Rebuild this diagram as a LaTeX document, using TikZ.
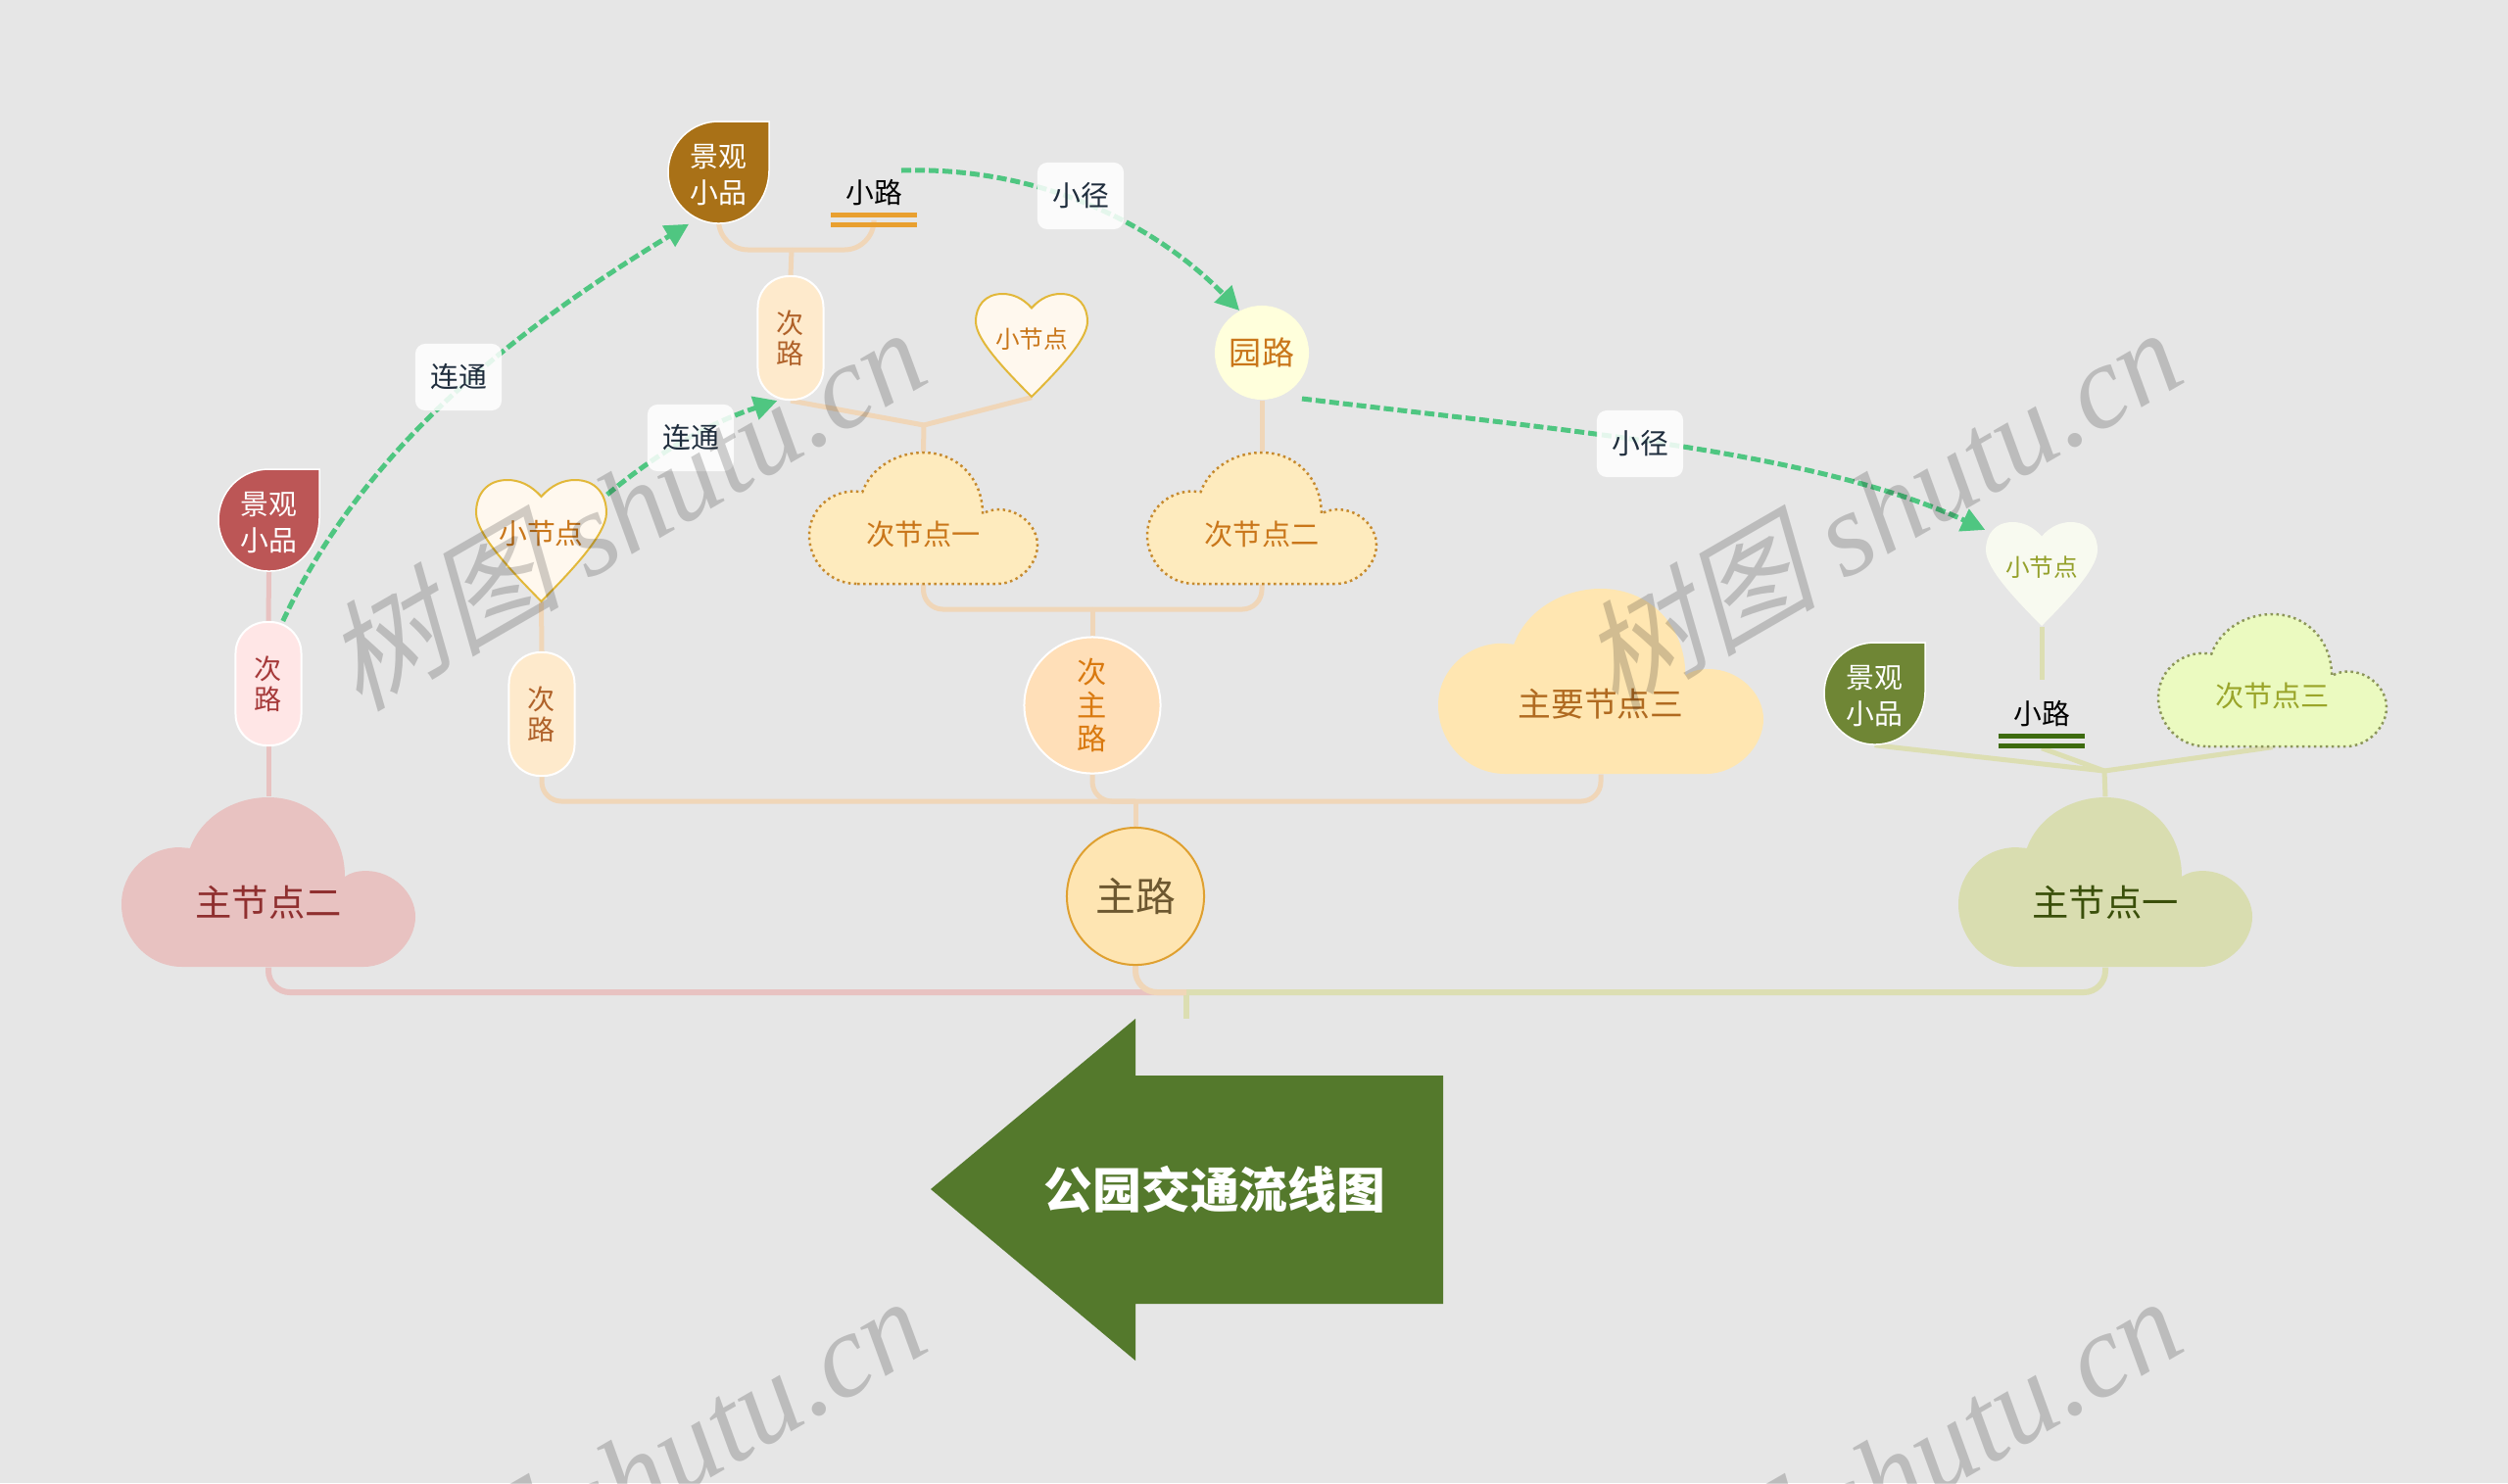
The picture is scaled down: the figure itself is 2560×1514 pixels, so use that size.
\documentclass[tikz,border=0pt]{standalone}
\usepackage{fontspec}
\usepackage{xcolor}
\usetikzlibrary{arrows.meta,backgrounds,shapes.geometric}
\setmainfont{Noto Sans CJK SC}
\newfontfamily\wmcjk[FakeSlant=0.25]{Noto Sans CJK SC}
\newfontfamily\wmlat[ItalicFont=Liberation Serif Italic]{Liberation Serif}

\definecolor{bgcol}{HTML}{E6E6E6}
\definecolor{pinkline}{HTML}{E8C2C1}
\definecolor{orangeline}{HTML}{F0D6B8}
\definecolor{greenline}{HTML}{DCDEB2}
\definecolor{dashcol}{HTML}{4FC681}
\definecolor{labelcol}{HTML}{1F2D3D}
\definecolor{amber}{HTML}{C9761A}
\definecolor{pinktext}{HTML}{8F2F2F}
\definecolor{olivefill}{HTML}{D9DDB0}
\definecolor{olivetext}{HTML}{3A4F0A}
\definecolor{creamfill}{HTML}{FFE6B1}
\definecolor{creamtext}{HTML}{B06A20}
\definecolor{softfill}{HTML}{FEEBBE}
\definecolor{softdots}{HTML}{C68A2E}
\definecolor{limefill}{HTML}{EBFAC0}
\definecolor{limedots}{HTML}{8C965A}
\definecolor{limetext}{HTML}{9AA52A}
\definecolor{mainfill}{HTML}{FEE5B2}
\definecolor{mainedge}{HTML}{DFA030}
\definecolor{maintext}{HTML}{6D5830}
\definecolor{subfill}{HTML}{FFDFB8}
\definecolor{subtext}{HTML}{D9790F}
\definecolor{gardenfill}{HTML}{FFFFDC}
\definecolor{pillpink}{HTML}{FFE6E6}
\definecolor{pillpinktext}{HTML}{A63A3A}
\definecolor{pillcream}{HTML}{FEEACC}
\definecolor{pillcreamtext}{HTML}{B0622A}
\definecolor{leafred}{HTML}{BC5656}
\definecolor{leafbrown}{HTML}{A97117}
\definecolor{leafgreen}{HTML}{6F8635}
\definecolor{heartfill}{HTML}{FFF8EE}
\definecolor{heartedge}{HTML}{E2B83A}
\definecolor{heartpale}{HTML}{F8FAF0}
\definecolor{heartpaletext}{HTML}{94A02A}
\definecolor{barorange}{HTML}{E9A030}
\definecolor{bargreen}{HTML}{3D6B0F}
\definecolor{arrowfill}{HTML}{54792C}

\tikzset{
	pinkpath/.style={draw=pinkline, line width=0.06cm},
	orangepath/.style={draw=orangeline, line width=0.05cm},
	greenpath/.style={draw=greenline, line width=0.05cm},
	linkarrow/.style={draw=dashcol, line width=0.05cm, dash pattern=on 0.1cm off 0.04cm, -{Triangle[length=0.24cm, width=0.24cm]}},
	linklabel/.style={rectangle, rounded corners=0.1cm, fill=white, fill opacity=0.85, text opacity=1, text=labelcol, minimum width=0.88cm, minimum height=0.68cm, inner sep=0, font=\fontsize{8.2}{10}\selectfont},
	pillnode/.style={rectangle, rounded corners=0.32cm, draw=white, line width=0.02cm, minimum width=0.67cm, minimum height=1.26cm, inner sep=0, align=center, font=\fontsize{8}{8.8}\selectfont},
	bigcloudtext/.style={inner sep=0, font=\fontsize{10.6}{12}\selectfont},
	midcloudtext/.style={inner sep=0, font=\fontsize{8.3}{10}\selectfont},
	dotcloud/.style={line width=0.025cm, dash pattern=on 0.025cm off 0.035cm},
	leaftext/.style={inner sep=0, align=center, text=white, font=\fontsize{8.2}{10.5}\selectfont},
	pathtext/.style={rectangle, inner sep=0, minimum width=0.87cm, minimum height=0.68cm, text=black, font=\fontsize{8.2}{10}\selectfont},
	markbar/.style={line width=0.05cm},
	boxonly/.style={rectangle, inner sep=0},
	watermark/.style={rotate=30, text=black, text opacity=0.18, inner sep=0}
}

\newcommand{\cloudnode}[7]{
	\begin{scope}[shift={(#2)}, x=#3*0.01cm, y=-#4*0.01cm]
		\path[#5] (.207,1) .. controls (.09,1) and (0,.83) .. (0,.63) .. controls (0,.44) and (.09,.295) .. (.197,.295) -- (.233,.30) .. controls (.27,.12) and (.38,0) .. (.5,0) .. controls (.65,0) and (.76,.2) .. (.76,.468) .. controls (.78,.445) and (.80,.434) .. (.833,.434) .. controls (.92,.434) and (1,.56) .. (1,.705) .. controls (1,.85) and (.92,1) .. (.823,1) -- cycle;
		\node[boxonly, minimum width=#3*0.01cm, minimum height=#4*0.01cm] (#1) at (.5,.5) {};
		\node[#6] (#1t) at (.5,.62) {#7};
	\end{scope}
}
\newcommand{\heartnode}[7]{
	\begin{scope}[shift={(#2)}, x=#3*0.01cm, y=-#4*0.01cm]
		\path[#5] (.5,.137) .. controls (.42,.04) and (.33,0) .. (.24,0) .. controls (.08,0) and (0,.12) .. (0,.27) .. controls (0,.45) and (.28,.76) .. (.5,1) .. controls (.72,.76) and (1,.45) .. (1,.27) .. controls (1,.12) and (.92,0) .. (.76,0) .. controls (.67,0) and (.58,.04) .. (.5,.137) -- cycle;
		\node[boxonly, minimum width=#3*0.01cm, minimum height=#4*0.01cm] (#1) at (.5,.5) {};
		\node[#6] (#1t) at (.5,.44) {#7};
	\end{scope}
}
\newcommand{\leafnode}[5]{
	\begin{scope}[shift={(#2)}, x=1.03cm, y=-1.04cm]
		\path[fill=#3, draw=white, line width=0.015cm] (1,0) -- (1,.47) .. controls (1,.76) and (.8,1) .. (.5,1) .. controls (.22,1) and (0,.76) .. (0,.5) .. controls (0,.22) and (.22,0) .. (.5,0) -- cycle;
		\node[boxonly, minimum width=1.03cm, minimum height=1.04cm] (#1) at (.5,.5) {};
		\node[leaftext] (#1t) at (.5,.52) {#4\\#5};
	\end{scope}
}

\begin{document}
\begin{tikzpicture}[x=0.01cm, y=-0.01cm]
	\useasboundingbox (0,0) rectangle (2560,1514);
	\clip (0,0) rectangle (2560,1514);

	\cloudnode{c2}{124,814}{300}{173}{fill=pinkline}{bigcloudtext, text=pinktext}{主节点二}
	\cloudnode{c1}{1999,814}{300}{173}{fill=olivefill}{bigcloudtext, text=olivetext}{主节点一}
	\cloudnode{c3}{1468,601}{332}{189}{fill=creamfill}{inner sep=0, text=creamtext, font=\fontsize{9.6}{11}\selectfont}{主要节点三}
	\cloudnode{s1}{826,462}{233}{134}{fill=softfill, draw=softdots, dotcloud}{midcloudtext, text=amber}{次节点一}
	\cloudnode{s2}{1171,462}{234}{134}{fill=softfill, draw=softdots, dotcloud}{midcloudtext, text=amber}{次节点二}
	\cloudnode{s3}{2203,627}{233}{135}{fill=limefill, draw=limedots, dotcloud}{midcloudtext, text=limetext}{次节点三}

	\node[circle, minimum size=1.4cm, inner sep=0, fill=mainfill, draw=mainedge, line width=0.02cm, text=maintext, font=\fontsize{11.6}{13}\selectfont] (main) at (1159,915) {主路};
	\node[circle, minimum size=1.39cm, inner sep=0, fill=subfill, draw=white, line width=0.02cm, align=center, text=subtext, font=\fontsize{8.6}{9.6}\selectfont] (sub) at (1115,720) {次\\主\\路};
	\node[circle, minimum size=0.96cm, inner sep=0, fill=gardenfill, text=amber, font=\fontsize{9.4}{11}\selectfont] (garden) at (1288,360) {园路};

	\node[pillnode, fill=pillpink, text=pillpinktext] (pr) at (274,698) {次\\路};
	\node[pillnode, fill=pillcream, text=pillcreamtext] (pl) at (553,729) {次\\路};
	\node[pillnode, fill=pillcream, text=pillcreamtext] (pu) at (807,345) {次\\路};

	\leafnode{lr}{223,479}{leafred}{景观}{小品}
	\leafnode{lb}{682,124}{leafbrown}{景观}{小品}
	\leafnode{lg}{1862,656}{leafgreen}{景观}{小品}

	\heartnode{hb}{486,490}{133}{124}{fill=heartfill, draw=heartedge, line width=0.02cm}{inner sep=0, text=amber, font=\fontsize{8.2}{10}\selectfont}{小节点}
	\heartnode{hs}{996,300}{114}{105}{fill=heartfill, draw=heartedge, line width=0.02cm}{inner sep=0, text=amber, font=\fontsize{7}{9}\selectfont}{小节点}
	\heartnode{hg}{2027,533}{114}{106}{fill=heartpale}{inner sep=0, text=heartpaletext, font=\fontsize{7}{9}\selectfont}{小节点}

	\node[pathtext] (wo) at (892,197) {小路};
	\node[pathtext] (wg) at (2084,729) {小路};
	\draw[markbar, draw=barorange] ([yshift=0.125cm]wo.south west) -- ([yshift=0.125cm]wo.south east);
	\draw[markbar, draw=barorange] ([yshift=0.025cm]wo.south west) -- ([yshift=0.025cm]wo.south east);
	\draw[markbar, draw=bargreen] ([yshift=0.125cm]wg.south west) -- ([yshift=0.125cm]wg.south east);
	\draw[markbar, draw=bargreen] ([yshift=0.025cm]wg.south west) -- ([yshift=0.025cm]wg.south east);

	\coordinate (hub) at (1211,1013);
	\coordinate (root) at (1211,1040);
	\coordinate (jmain) at (1159,818);
	\coordinate (jsub) at (1115,622);
	\coordinate (jupper) at (808,255);
	\coordinate (jcloud) at (943,434);
	\coordinate (jgreen) at (2148,787);
	\coordinate (wostart) at (920,174);
	\coordinate (gardenout) at (1329,407);

	\begin{pgfonlayer}{background}
		\fill[bgcol] (0,0) rectangle (2560,1514);
		\draw[pinkpath, rounded corners=0.22cm] (c2.south) |- (hub);
		\draw[draw=greenline, line width=0.06cm, rounded corners=0.22cm] (c1.south) |- (hub);
		\draw[draw=greenline, line width=0.06cm] (hub) -- (root);
		\draw[draw=orangeline, line width=0.06cm, rounded corners=0.22cm] (main.south) |- (hub);
		\draw[orangepath, rounded corners=0.2cm] (pl.south) |- (jmain);
		\draw[orangepath, rounded corners=0.2cm] (sub.south) |- (jmain);
		\draw[orangepath, rounded corners=0.2cm] (c3.south) |- (jmain);
		\draw[orangepath, rounded corners=0.2cm] (s1.south) |- (jsub);
		\draw[orangepath, rounded corners=0.2cm] (s2.south) |- (jsub);
		\draw[orangepath, rounded corners=0.3cm] (lb.south) |- (jupper);
		\draw[orangepath, rounded corners=0.3cm] (wo.south) |- (jupper);
		\path[orangepath]
			(main) edge (jmain)
			(sub) edge (jsub)
			(garden) edge (s2.north)
			(pu.north) edge (jupper)
			(pu.south) edge (jcloud)
			(hs.south) edge (jcloud)
			(jcloud) edge (s1.north)
			(hb.south) edge (pl.north)
		;
		\path[pinkpath, line width=0.05cm]
			(lr.south) edge (pr.north)
			(pr.south) edge (c2.north)
		;
		\path[greenpath]
			(hg.south) edge (wg.north)
			(lg.south) edge (jgreen)
			(wg.south) edge (jgreen)
			(s3.south) edge (jgreen)
			(jgreen) edge (c1.north)
		;
	\end{pgfonlayer}

	\fill[arrowfill] (950,1214) -- (1159,1040) -- (1159,1098) -- (1473,1098) -- (1473,1331) -- (1159,1331) -- (1159,1389) -- cycle;
	\node[inner sep=0, text=white, font=\bfseries\fontsize{14.15}{16}\selectfont] (title) at (1240,1214) {公园交通流线图};

	\draw[linkarrow] (pr.77) .. controls (370,460) and (520,340) .. (lb.240);
	\draw[linkarrow] (hb.35) .. controls (680,455) and (730,430) .. (pu.258);
	\draw[linkarrow] (wostart) .. controls (1050,170) and (1170,220) .. (garden.118);
	\draw[linkarrow] (gardenout) .. controls (1600,440) and (1850,460) .. (hg.142);

	\node[linklabel] (l1) at (468,385) {连通};
	\node[linklabel] (l2) at (705,447) {连通};
	\node[linklabel] (l3) at (1103,200) {小径};
	\node[linklabel] (l4) at (1674,453) {小径};

	\foreach \wx/\wy/\wn in {637/518/w1, 1919/518/w2, 637/1507/w3, 1919/1507/w4}
		\node[watermark] (\wn) at (\wx,\wy) {\fontsize{34.5}{36}\selectfont\wmcjk 树图 \wmlat\itshape shutu.cn};
\end{tikzpicture}
\end{document}
